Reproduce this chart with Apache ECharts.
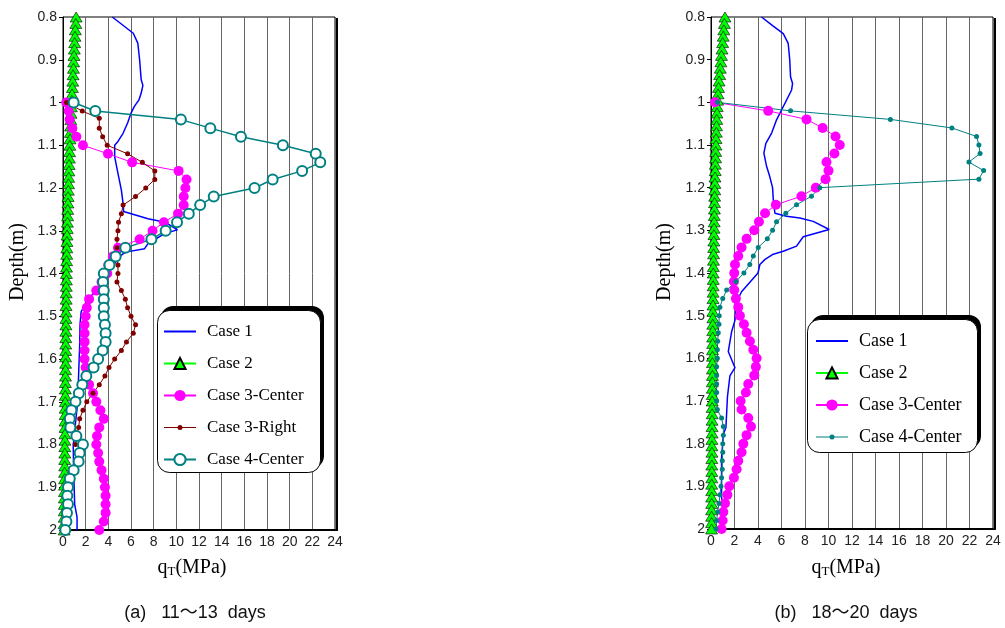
<!DOCTYPE html>
<html>
<head>
<meta charset="utf-8">
<script src="https://cdn.jsdelivr.net/npm/echarts@6/dist/echarts.min.js"></script>
<style>
html,body{margin:0;padding:0;background:#fff;}
#chart{width:1005px;height:628px;}
</style>
</head>
<body>
<div id="chart"></div>
<script>
// ---------- tick / axis settings ----------
const depthMin = 0.8, depthMax = 2.0, depthStep = 0.1;
const qtMin = 0, qtMax = 24, qtStep = 2;
const legendA = ['Case 1', 'Case 2', 'Case 3-Center', 'Case 3-Right', 'Case 4-Center'];
const legendB = ['Case 1 ', 'Case 2 ', 'Case 3-Center ', 'Case 4-Center '];
const captionA = '(a)   11～13  days';
const captionB = '(b)   18～20  days';

// ---------- panel (a): 11~13 days ----------
const a_case1_depth = [0.8,0.838,0.861,0.9,0.947,0.96,0.978,0.994,1.009,1.025,1.048,1.072,1.091,1.1,1.127,1.166,1.205,1.236,1.255,1.272,1.28,1.298,1.306,1.33,1.342,1.35,1.36,1.39,1.41,1.43,1.447,1.47,1.49,1.52,1.57,1.62,1.7,1.75,1.78,1.8,1.86,1.94,1.97,2.0];
const a_case1_qt    = [4.35,6.2,6.6,6.76,6.9,7.05,6.9,6.7,6.3,6.0,5.7,5.3,4.85,4.56,4.56,4.85,5.15,5.3,5.35,7.5,9.0,10.1,9.0,7.5,7.2,5.5,5.0,4.2,3.9,3.3,2.65,2.0,1.6,1.5,1.47,1.4,1.3,1.1,1.03,0.9,0.94,1.03,1.24,1.24];

const a_case2_depth = [0.8,0.815,0.83,0.845,0.86,0.875,0.89,0.905,0.92,0.935,0.95,0.965,0.98,0.995,1.01,1.025,1.04,1.055,1.07,1.085,1.1,1.115,1.13,1.145,1.16,1.175,1.19,1.205,1.22,1.235,1.25,1.265,1.28,1.295,1.31,1.325,1.34,1.355,1.37,1.385,1.4,1.415,1.43,1.445,1.46,1.475,1.49,1.505,1.52,1.535,1.55,1.565,1.58,1.595,1.61,1.625,1.64,1.655,1.67,1.685,1.7,1.715,1.73,1.745,1.76,1.775,1.79,1.805,1.82,1.835,1.85,1.865,1.88,1.895,1.91,1.925,1.94,1.955,1.97,1.985,2.0];
const a_case2_qt    = [1.16,1.13,1.09,1.06,1.03,1.0,0.97,0.94,0.92,0.89,0.86,0.83,0.8,0.77,0.74,0.71,0.69,0.67,0.65,0.62,0.6,0.58,0.56,0.54,0.52,0.5,0.49,0.47,0.45,0.44,0.42,0.41,0.39,0.38,0.36,0.35,0.34,0.33,0.32,0.31,0.3,0.3,0.29,0.28,0.28,0.27,0.27,0.26,0.26,0.25,0.25,0.24,0.24,0.23,0.23,0.22,0.22,0.21,0.21,0.2,0.2,0.19,0.19,0.18,0.18,0.17,0.17,0.16,0.16,0.15,0.15,0.14,0.14,0.13,0.13,0.12,0.12,0.11,0.11,0.1,0.1];

const a_case3c_depth = [1.0,1.02,1.04,1.06,1.08,1.1,1.12,1.14,1.16,1.18,1.2,1.22,1.24,1.26,1.28,1.3,1.32,1.34,1.36,1.38,1.4,1.42,1.44,1.46,1.48,1.5,1.52,1.54,1.56,1.58,1.6,1.62,1.64,1.66,1.68,1.7,1.72,1.74,1.76,1.78,1.8,1.82,1.84,1.86,1.88,1.9,1.92,1.94,1.96,1.98,2.0];
const a_case3c_qt    = [0.29,0.5,0.59,0.82,1.18,1.76,3.97,6.1,10.2,10.9,10.8,10.65,10.65,10.15,8.9,7.9,6.76,4.85,4.4,4.0,3.9,3.4,2.94,2.3,2.1,2.0,1.9,1.9,1.9,1.9,1.9,2.0,2.1,2.3,2.65,2.94,3.3,3.6,3.2,3.0,2.94,3.1,3.2,3.4,3.6,3.7,3.76,3.76,3.76,3.6,3.2];

const a_case3r_depth = [1.0,1.02,1.037,1.06,1.08,1.1,1.12,1.14,1.16,1.18,1.2,1.22,1.24,1.26,1.28,1.3,1.32,1.34,1.36,1.38,1.4,1.42,1.44,1.46,1.48,1.5,1.52,1.54,1.56,1.58,1.6,1.62,1.64,1.66,1.68,1.7,1.72,1.74,1.76,1.78,1.8];
const a_case3r_qt    = [0.3,1.7,3.2,3.2,3.5,3.9,5.7,7.0,8.1,8.1,7.3,6.4,5.3,5.15,4.9,4.85,4.76,4.76,4.76,4.85,4.85,4.76,5.15,5.5,5.7,6.0,6.4,6.2,5.6,5.15,4.56,4.06,3.7,3.2,2.65,2.1,1.76,1.47,1.38,1.24,1.1];

const a_case4_depth = [1.0,1.02,1.04,1.06,1.08,1.1,1.12,1.14,1.16,1.18,1.2,1.22,1.24,1.26,1.28,1.3,1.32,1.34,1.36,1.38,1.4,1.42,1.44,1.46,1.48,1.5,1.52,1.54,1.56,1.58,1.6,1.62,1.64,1.66,1.68,1.7,1.72,1.74,1.76,1.78,1.8,1.82,1.84,1.86,1.88,1.9,1.92,1.94,1.96,1.98,2.0];
const a_case4_qt    = [0.94,2.85,10.4,13.0,15.7,19.4,22.3,22.7,21.1,18.5,16.9,13.3,12.1,11.1,10.06,9.06,7.8,5.5,4.65,4.1,3.6,3.53,3.6,3.6,3.6,3.6,3.7,3.76,3.76,3.5,3.1,2.7,2.06,1.7,1.4,1.1,0.74,0.6,0.65,1.18,1.76,1.47,1.38,0.94,0.6,0.44,0.38,0.44,0.35,0.3,0.2];

// ---------- panel (b): 18~20 days ----------
const b_case1_depth = [0.8,0.82,0.839,0.862,0.9,0.94,0.956,0.971,0.987,1.002,1.018,1.041,1.072,1.096,1.119,1.15,1.174,1.2,1.228,1.251,1.26,1.267,1.271,1.279,1.298,1.315,1.337,1.349,1.356,1.368,1.38,1.4,1.444,1.467,1.511,1.537,1.584,1.622,1.641,1.69,1.762,1.778,1.833,1.926,1.94,2.0];
const b_case1_qt    = [4.3,5.24,6.15,6.57,6.7,6.77,6.94,6.86,6.57,6.3,6.0,5.58,5.16,4.67,4.5,4.73,5.0,5.24,5.3,5.4,5.44,6.43,7.56,8.7,10.06,7.85,7.28,6.15,5.3,4.6,4.16,4.0,2.6,2.18,2.04,1.76,1.47,2.04,1.61,1.4,1.27,1.05,0.9,0.9,1.0,0.9];

const b_case2_depth = a_case2_depth;
const b_case2_qt    = [1.19,1.14,1.09,1.04,0.99,0.94,0.89,0.84,0.79,0.74,0.69,0.64,0.6,0.56,0.53,0.51,0.49,0.47,0.45,0.43,0.42,0.4,0.39,0.37,0.36,0.34,0.33,0.32,0.31,0.3,0.29,0.28,0.27,0.26,0.25,0.24,0.23,0.22,0.21,0.2,0.19,0.19,0.18,0.18,0.17,0.17,0.16,0.16,0.15,0.15,0.14,0.14,0.13,0.13,0.12,0.12,0.12,0.11,0.11,0.11,0.1,0.1,0.1,0.09,0.09,0.09,0.08,0.08,0.08,0.07,0.07,0.07,0.07,0.06,0.06,0.06,0.06,0.05,0.05,0.05,0.05];

const b_case3c_depth = a_case3c_depth;
const b_case3c_qt    = [0.34,4.87,8.13,9.5,10.6,10.96,10.5,9.83,10.0,9.75,8.92,7.7,5.52,4.6,4.08,3.68,3.03,2.6,2.32,2.04,1.98,1.95,1.98,2.12,2.32,2.46,2.8,3.03,3.31,3.6,3.88,3.82,3.68,3.17,2.97,2.52,2.6,3.17,3.4,3.03,2.75,2.6,2.32,2.18,1.95,1.56,1.39,1.19,1.05,0.99,0.9];

const b_case4_depth = a_case4_depth;
const b_case4_qt    = [0.54,6.77,15.27,20.5,22.6,22.8,22.9,21.95,23.2,22.8,9.26,8.55,7.28,6.37,5.58,5.24,4.79,4.02,3.6,3.3,2.8,2.12,1.33,1.0,0.76,0.7,0.68,0.62,0.57,0.54,0.54,0.48,0.48,0.48,0.48,0.48,0.54,0.9,1.05,1.05,1.0,1.0,0.96,0.96,0.9,0.85,0.76,0.68,0.57,0.48,0.43];

// ---------- build ----------
function pairs(xs, ds){ return ds.map((d,i)=>[xs[i], d]); }

const C1 = '#0000ff', C2 = '#00ff00', C3 = '#ff00ff', C3R = '#800000', C4 = '#008080';
const tickFont = {fontFamily:'"Liberation Sans", Arial, sans-serif', fontSize:14, color:'#222'};

function xAxisCfg(gi){
  return {
    gridIndex: gi, type:'value', min:qtMin, max:qtMax, interval:qtStep,
    axisLine:{show:true, lineStyle:{color:'#000', width:2}},
    axisTick:{show:false},
    axisLabel:Object.assign({margin:5}, tickFont),
    splitLine:{show:true, lineStyle:{color:'#666', width:1}}
  };
}
function yAxisCfg(gi){
  return {
    gridIndex: gi, type:'value', inverse:true, min:depthMin, max:depthMax, interval:depthStep,
    axisLine:{show:true, lineStyle:{color:'#000', width:1}},
    axisTick:{show:true, length:4, lineStyle:{color:'#000'}},
    axisLabel:Object.assign({margin:6, formatter:v=>String(+v.toFixed(1))}, tickFont),
    splitLine:{show:false}
  };
}
const gridCommon = {show:true, backgroundColor:'transparent', borderColor:'#000', borderWidth:1};

function mkSeries(name, gi, xs, ds, style){
  return Object.assign({
    name, type:'line', xAxisIndex:gi, yAxisIndex:gi, data:pairs(xs, ds),
    animation:false, showSymbol:true, z:2
  }, style);
}

const series = [
  mkSeries(legendA[0], 0, a_case1_qt, a_case1_depth, {symbol:'none', lineStyle:{color:C1, width:1.5}, itemStyle:{color:C1}}),
  mkSeries(legendA[1], 0, a_case2_qt, a_case2_depth, {symbol:'triangle', symbolSize:[12,10], lineStyle:{color:C2, width:1}, itemStyle:{color:C2, borderColor:'#000', borderWidth:0.6}}),
  mkSeries(legendA[2], 0, a_case3c_qt, a_case3c_depth, {symbol:'circle', symbolSize:10, lineStyle:{color:C3, width:1}, itemStyle:{color:C3}}),
  mkSeries(legendA[3], 0, a_case3r_qt, a_case3r_depth, {symbol:'circle', symbolSize:5, lineStyle:{color:C3R, width:1}, itemStyle:{color:C3R}}),
  mkSeries(legendA[4], 0, a_case4_qt, a_case4_depth, {symbol:'circle', symbolSize:10, lineStyle:{color:C4, width:1.5}, itemStyle:{color:'#fff', borderColor:C4, borderWidth:2}}),
  mkSeries(legendB[0], 1, b_case1_qt, b_case1_depth, {symbol:'none', lineStyle:{color:C1, width:1.5}, itemStyle:{color:C1}}),
  mkSeries(legendB[1], 1, b_case2_qt, b_case2_depth, {symbol:'triangle', symbolSize:[12,10], lineStyle:{color:C2, width:1}, itemStyle:{color:C2, borderColor:'#000', borderWidth:0.6}}),
  mkSeries(legendB[2], 1, b_case3c_qt, b_case3c_depth, {symbol:'circle', symbolSize:10, lineStyle:{color:C3, width:1}, itemStyle:{color:C3}}),
  mkSeries(legendB[3], 1, b_case4_qt, b_case4_depth, {symbol:'circle', symbolSize:5, lineStyle:{color:C4, width:1}, itemStyle:{color:C4}})
];

const smallDotIcon = 'path://M0,0 M32,14 M0,6.5 L32,6.5 L32,7.5 L0,7.5 Z M18.5,7 A2.5,2.5 0 1 1 13.5,7 A2.5,2.5 0 1 1 18.5,7 Z';
const lineOnlyIcon = 'path://M0,0 M32,14 M0,6 L32,6 L32,8 L0,8 Z';
const legendBase = {orient:'vertical', backgroundColor:'transparent', borderWidth:0, z:6,
  itemWidth:32, itemHeight:14, selectedMode:false};

const serifFont = '"Liberation Serif", "Times New Roman", serif';

// frame boxes (plot shadows and legend boxes)
const boxes = [
  {type:'rect', z:-10, shape:{x:66, y:18, width:272, height:513}, style:{fill:'#000'}},
  {type:'rect', z:-9, shape:{x:63, y:17, width:272, height:513}, style:{fill:'#fff'}},
  {type:'rect', z:-10, shape:{x:714, y:18, width:282, height:512}, style:{fill:'#000'}},
  {type:'rect', z:-9, shape:{x:711, y:17, width:282, height:512}, style:{fill:'#fff'}},
  {type:'rect', z:3, shape:{x:161, y:306, width:163, height:162, r:12}, style:{fill:'#000'}},
  {type:'rect', z:3, shape:{x:157.5, y:310.5, width:163, height:162, r:12}, style:{fill:'#fff', stroke:'#000', lineWidth:1}},
  {type:'rect', z:3, shape:{x:811, y:315, width:170, height:133, r:12}, style:{fill:'#000'}},
  {type:'rect', z:3, shape:{x:807.5, y:319.5, width:170, height:133, r:12}, style:{fill:'#fff', stroke:'#000', lineWidth:1}}
];

const option = {
  animation:false,
  backgroundColor:'#fff',
  grid:[
    Object.assign({left:63, top:17, width:272, height:513}, gridCommon),
    Object.assign({left:711, top:17, width:282, height:512}, gridCommon)
  ],
  xAxis:[xAxisCfg(0), xAxisCfg(1)],
  yAxis:[yAxisCfg(0), yAxisCfg(1)],
  legend:[
    Object.assign({}, legendBase, {left:157, top:310, padding:[13,15,10,6], itemGap:15,
      data:[{name:legendA[0], icon:lineOnlyIcon}, legendA[1], legendA[2], {name:legendA[3], icon:smallDotIcon}, legendA[4]],
      textStyle:{fontFamily:serifFont, fontSize:17, color:'#000', padding:[0,0,0,6]}}),
    Object.assign({}, legendBase, {left:807, top:319, padding:[13,12,10,8], itemGap:14,
      data:[{name:legendB[0], icon:lineOnlyIcon}, legendB[1], legendB[2], {name:legendB[3], icon:smallDotIcon}],
      textStyle:{fontFamily:serifFont, fontSize:18, color:'#000', padding:[0,0,0,6]}})
  ],
  graphic:boxes.concat([
    {type:'text', x:18, y:262, rotation:Math.PI/2, style:{text:'Depth(m)', fontFamily:serifFont, fontSize:20, fill:'#000', align:'center', verticalAlign:'middle'}},
    {type:'text', x:665, y:262, rotation:Math.PI/2, style:{text:'Depth(m)', fontFamily:serifFont, fontSize:20, fill:'#000', align:'center', verticalAlign:'middle'}},
    {type:'text', x:192, y:568, style:{text:'{a|q}{b|T}{a|(MPa)}', align:'center', verticalAlign:'middle', fill:'#000',
      rich:{a:{fontFamily:serifFont, fontSize:20, fill:'#000'}, b:{fontFamily:serifFont, fontSize:13, fill:'#000', verticalAlign:'bottom', padding:[4,0,0,0]}}}},
    {type:'text', x:846, y:568, style:{text:'{a|q}{b|T}{a|(MPa)}', align:'center', verticalAlign:'middle', fill:'#000',
      rich:{a:{fontFamily:serifFont, fontSize:20, fill:'#000'}, b:{fontFamily:serifFont, fontSize:13, fill:'#000', verticalAlign:'bottom', padding:[4,0,0,0]}}}},
    {type:'text', x:195, y:613, style:{text:captionA, fontFamily:'"Liberation Sans", "Noto Sans CJK KR", sans-serif', fontSize:18, fill:'#111', align:'center', verticalAlign:'middle'}},
    {type:'text', x:846, y:613, style:{text:captionB, fontFamily:'"Liberation Sans", "Noto Sans CJK KR", sans-serif', fontSize:18, fill:'#111', align:'center', verticalAlign:'middle'}}
  ]),
  series
};

const chart = echarts.init(document.getElementById('chart'), null, {renderer:'canvas'});
chart.setOption(option);
</script>
</body>
</html>
